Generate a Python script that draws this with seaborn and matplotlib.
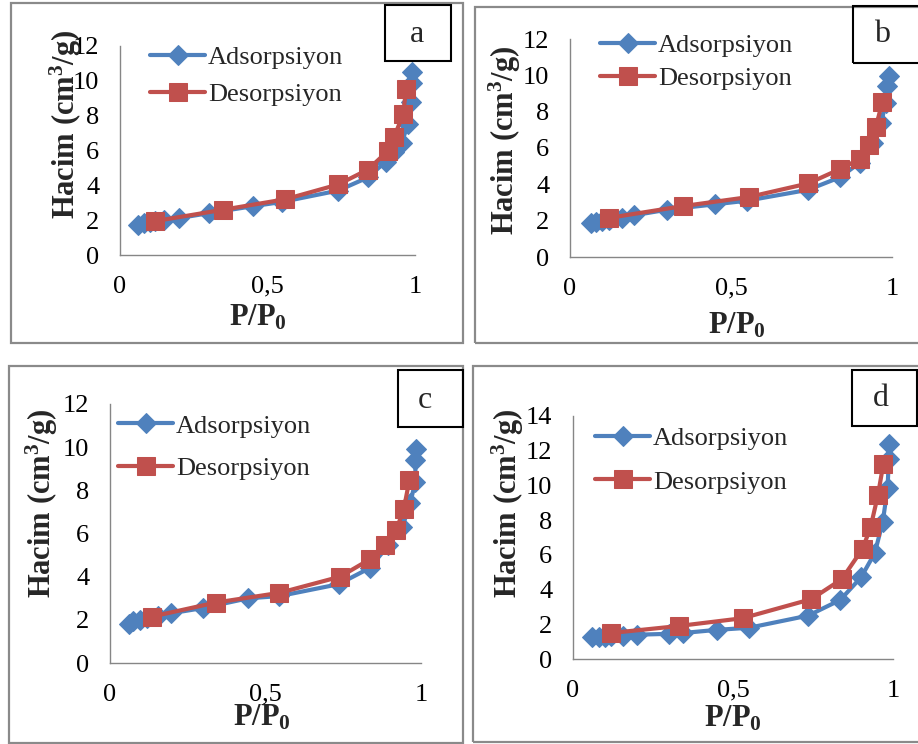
import matplotlib
matplotlib.use("Agg")
import matplotlib.pyplot as plt
from matplotlib.patches import Rectangle
import seaborn as sns
import pandas as pd

# Isotherm data: relative pressure P/P0 vs adsorbed volume (cm3/g)
a_ads_x = [0.06, 0.08, 0.10, 0.12, 0.15, 0.20, 0.30, 0.45, 0.55, 0.74, 0.84, 0.90, 0.93, 0.955, 0.977, 0.988, 0.99, 0.99]
a_ads_y = [1.75, 1.82, 1.88, 1.93, 2.00, 2.12, 2.40, 2.80, 3.05, 3.70, 4.45, 5.35, 5.90, 6.45, 7.55, 8.80, 9.90, 10.50]
a_des_x = [0.12, 0.35, 0.56, 0.74, 0.84, 0.91, 0.93, 0.96, 0.97]
a_des_y = [1.95, 2.60, 3.20, 4.05, 4.90, 6.00, 6.80, 8.10, 9.55]

b_ads_x = [0.065, 0.08, 0.10, 0.12, 0.16, 0.20, 0.30, 0.45, 0.55, 0.74, 0.84, 0.90, 0.94, 0.967, 0.98, 0.985, 0.99]
b_ads_y = [1.85, 1.92, 2.00, 2.05, 2.15, 2.30, 2.60, 2.90, 3.10, 3.70, 4.40, 5.20, 6.30, 7.40, 8.50, 9.40, 9.95]
b_des_x = [0.12, 0.35, 0.555, 0.74, 0.84, 0.90, 0.93, 0.95, 0.97]
b_des_y = [2.15, 2.80, 3.30, 4.05, 4.85, 5.40, 6.15, 7.15, 8.55]

c_ads_x = [0.06, 0.075, 0.095, 0.12, 0.155, 0.195, 0.30, 0.445, 0.545, 0.735, 0.835, 0.895, 0.94, 0.965, 0.982, 0.982, 0.983]
c_ads_y = [1.82, 1.95, 2.00, 2.10, 2.20, 2.30, 2.55, 3.00, 3.10, 3.65, 4.40, 5.45, 6.30, 7.40, 8.40, 9.40, 9.90]
c_des_x = [0.135, 0.34, 0.545, 0.74, 0.835, 0.885, 0.92, 0.945, 0.963]
c_des_y = [2.15, 2.80, 3.25, 4.00, 4.80, 5.45, 6.15, 7.15, 8.50]

d_ads_x = [0.06, 0.08, 0.10, 0.12, 0.155, 0.20, 0.30, 0.345, 0.45, 0.55, 0.735, 0.835, 0.90, 0.943, 0.968, 0.983, 0.987, 0.987]
d_ads_y = [1.25, 1.27, 1.29, 1.31, 1.35, 1.40, 1.45, 1.50, 1.68, 1.80, 2.50, 3.40, 4.70, 6.10, 7.90, 9.85, 11.50, 12.40]
d_des_x = [0.12, 0.33, 0.53, 0.745, 0.84, 0.905, 0.93, 0.953, 0.97]
d_des_y = [1.50, 1.90, 2.35, 3.45, 4.60, 6.35, 7.60, 9.45, 11.25]

series_names = ["Adsorpsiyon", "Desorpsiyon"]
panel_letters = ["a", "b", "c", "d"]
x_ticks = [0, 0.5, 1]
x_tick_labels = ["0", "0,5", "1"]
y_max = [12, 12, 12, 14]

BLUE = "#4F81BD"
RED = "#C0504D"
GRAY = "#8a8a8a"
W, H = 918, 744

sns.set_theme(style="white")
plt.rcParams["font.family"] = ["Liberation Serif", "DejaVu Serif"]
plt.rcParams["mathtext.fontset"] = "custom"
plt.rcParams["mathtext.rm"] = "Liberation Serif"
plt.rcParams["mathtext.bf"] = "Liberation Serif:bold"
plt.rcParams["mathtext.it"] = "Liberation Serif:italic"

fig = plt.figure(figsize=(W / 100, H / 100), dpi=100)


def fx(px):
    return px / W


def fy(py):
    return 1 - py / H


def frame(x0, y0, x1, y1, color, lw):
    fig.add_artist(Rectangle((fx(x0), fy(y1)), (x1 - x0) / W, (y1 - y0) / H,
                             transform=fig.transFigure, fill=False,
                             edgecolor=color, linewidth=lw, clip_on=False))


# Panel layout in pixels
panels = [
    dict(outer=(11, 3, 463, 343), ax=(120, 46, 415, 255), box=(385, 5, 451, 61), letter=(417, 34),
         ylab=(66, 124), xlab=(258, 318), leg=(150, 76), legsp=0.52,
         ads=(a_ads_x, a_ads_y), des=(a_des_x, a_des_y)),
    dict(outer=(475, 7, 930, 343), ax=(570, 39, 892, 257), box=(853, 6, 930, 63), letter=(882, 35),
         ylab=(505, 140), xlab=(737, 326), leg=(600, 62), legsp=0.38,
         ads=(b_ads_x, b_ads_y), des=(b_des_x, b_des_y)),
    dict(outer=(9, 366, 463, 743), ax=(110, 404, 421, 663), box=(398, 370, 463, 427), letter=(425, 400),
         ylab=(42, 503), xlab=(262, 718), leg=(118, 447), legsp=0.72,
         ads=(c_ads_x, c_ads_y), des=(c_des_x, c_des_y)),
    dict(outer=(473, 366, 930, 742), ax=(573, 416, 893, 659), box=(852, 370, 917, 426), letter=(881, 399),
         ylab=(508, 503), xlab=(733, 719), leg=(595, 460), legsp=0.76,
         ads=(d_ads_x, d_ads_y), des=(d_des_x, d_des_y)),
]

for i, p in enumerate(panels):
    frame(*p["outer"], GRAY, 1.6)
    l, t, r, b = p["ax"]
    ax = fig.add_axes([fx(l), fy(b), (r - l) / W, (b - t) / H])
    ax.set_facecolor("none")

    ads = pd.DataFrame({"P": p["ads"][0], "V": p["ads"][1]})
    des = pd.DataFrame({"P": p["des"][0], "V": p["des"][1]})
    sns.lineplot(data=ads, x="P", y="V", ax=ax, sort=False, estimator=None,
                 color=BLUE, linewidth=3, marker="D", markersize=10,
                 markeredgecolor=BLUE, label=series_names[0], clip_on=False, zorder=3)
    sns.lineplot(data=des, x="P", y="V", ax=ax, sort=False, estimator=None,
                 color=RED, linewidth=3, marker="s", markersize=13,
                 markeredgecolor=RED, label=series_names[1], clip_on=False, zorder=4)

    ax.set_xlim(0, 1)
    ax.set_ylim(0, y_max[i])
    ax.set_xticks(x_ticks)
    ax.set_xticklabels(x_tick_labels)
    ax.set_yticks(range(0, y_max[i] + 1, 2))
    ax.set_xlabel("")
    ax.set_ylabel("")
    for s in ["top", "right"]:
        ax.spines[s].set_visible(False)
    for s in ["left", "bottom"]:
        ax.spines[s].set_color("#868686")
        ax.spines[s].set_linewidth(1.0)
    ax.tick_params(axis="both", direction="out", length=6, width=1.0,
                   color="#868686", labelsize=19, labelcolor="black")
    ax.tick_params(axis="y", pad=9)
    ax.tick_params(axis="x", pad=9)

    lx, ly = p["leg"]
    ax.legend(loc="center left", bbox_to_anchor=(fx(lx), fy(ly)),
              bbox_transform=fig.transFigure, frameon=False, fontsize=19,
              handlelength=2.1, handletextpad=0.1, borderpad=0,
              borderaxespad=0, labelspacing=p["legsp"], numpoints=1)

    # axis titles
    fig.text(fx(p["ylab"][0]), fy(p["ylab"][1]), r"Hacim (cm$^{\mathbf{3}}$/g)",
             rotation=90, ha="center", va="center", fontsize=22, fontweight="bold")
    fig.text(fx(p["xlab"][0]), fy(p["xlab"][1]), r"P/P$_{\mathbf{0}}$",
             ha="center", va="center", fontsize=22, fontweight="bold")

    # panel letter box
    frame(*p["box"], "black", 1.5)
    fig.text(fx(p["letter"][0]), fy(p["letter"][1]), panel_letters[i],
             ha="center", va="center", fontsize=23)

fig.savefig("out.png", dpi=100)
